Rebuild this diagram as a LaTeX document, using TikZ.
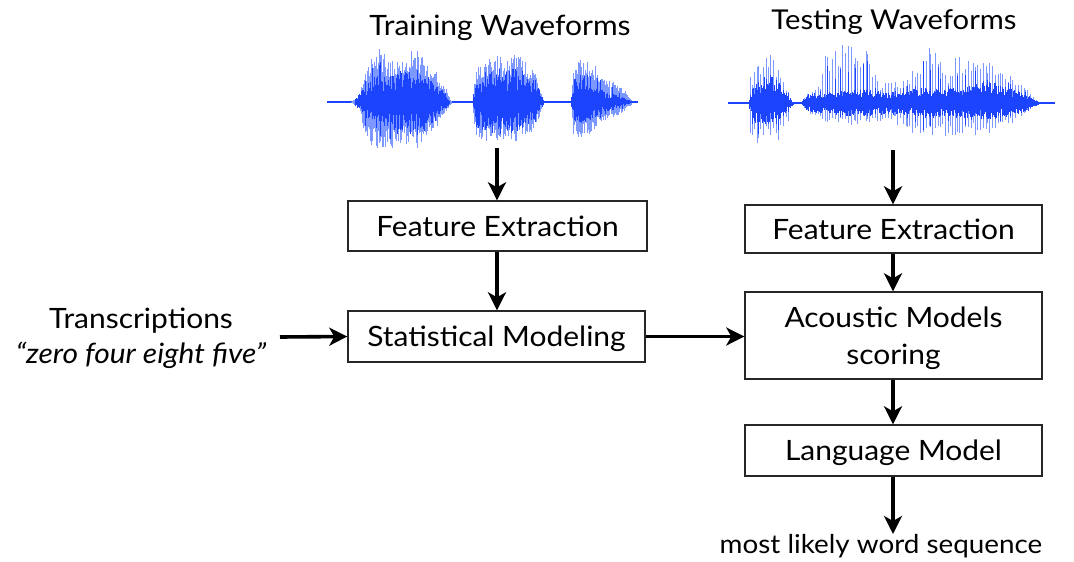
\documentclass[tikz,border=0pt]{standalone}
\usepackage{fontspec}
\setmainfont{Lato}[FakeStretch=1.07]
\usetikzlibrary{arrows.meta}
\definecolor{wlight}{RGB}{125,152,255}
\definecolor{wdark}{RGB}{28,68,255}
\newcommand\wenv[6]{%
  \foreach \xa/\ta/\ba [count=\k, remember=\xa as \xp (initially 0), remember=\ta as \tp (initially 0), remember=\ba as \bp (initially 0)] in #6 {%
    \ifnum\k>1
      \pgfmathtruncatemacro\nn{(\xa-\xp)/#2}%
      \foreach \i in {0,...,\nn} {%
        \pgfmathsetmacro\tt{\i/max(\nn,1)}%
        \pgfmathsetmacro\xx{\xp+\i*#2}%
        \pgfmathsetmacro\up{#5*(\tp+(\ta-\tp)*\tt)*(#4+(1-#4)*rnd)}%
        \pgfmathsetmacro\dn{#5*(\bp+(\ba-\bp)*\tt)*(#4+(1-#4)*rnd)}%
        \draw[#3] (\xx,#1-\up) -- (\xx,#1+\dn);
      }%
    \fi
  }%
}
\tikzset{
  box/.style={draw=black!85, line width=1.4pt, inner sep=0pt, font=\fontsize{28}{37}\selectfont, align=center},
  onel/.style={text height=27pt, text depth=7pt},
  lbl/.style={inner sep=0pt, font=\fontsize{28}{35}\selectfont, align=center},
  arr/.style={line width=3.6pt, -{Stealth[length=18pt,width=18pt,inset=5pt]}},
  lw/.style={wlight, line width=1pt},
  dw/.style={wdark, line width=0.9pt},
  ds/.style={wdark, line width=0.6pt},
}
\begin{document}
\begin{tikzpicture}[x=1pt,y=-1pt]
\useasboundingbox (0,0) rectangle (1074,562);
\pgfmathsetseed{7}
% training waveform
\draw[wdark, line width=1.3pt] (327,102) -- (638,102);
\def\tA{350/0/0, 358/5/5, 365/28/33, 372/44/44, 380/55/47, 390/44/46, 400/46/44, 410/53/42, 417/55/48, 425/44/38, 435/33/28, 445/16/11, 452/2/2}
\def\tB{472/0/0, 476/33/33, 482/38/38, 492/47/41, 505/46/38, 515/49/41, 525/42/35, 535/31/28, 543/5/5}
\def\tC{571/0/0, 574/38/33, 580/49/37, 590/40/33, 600/33/24, 612/24/20, 622/15/11, 633/3/3}
\def\dA{355/3/3, 362/12/12, 372/24/26, 380/32/30, 390/26/28, 400/28/30, 410/32/32, 420/30/28, 430/26/24, 440/14/12, 450/3/3}
\def\dB{473/5/5, 478/26/26, 490/32/30, 500/30/32, 512/34/32, 525/29/26, 535/21/18, 543/4/4}
\def\dC{571/3/3, 575/24/24, 582/29/26, 592/18/18, 605/12/12, 620/6/6, 633/1/1}
\wenv{102}{1.1}{lw}{0.55}{1}{\tA}
\wenv{102}{1.1}{lw}{0.55}{1}{\tB}
\wenv{102}{1.1}{lw}{0.55}{1}{\tC}
\wenv{102}{0.8}{dw}{0.35}{1}{\dA}
\wenv{102}{0.8}{dw}{0.35}{1}{\dB}
\wenv{102}{0.8}{dw}{0.35}{1}{\dC}
\wenv{102}{7}{ds}{0.4}{0.8}{\tA}
\wenv{102}{7}{ds}{0.4}{0.8}{\tB}
\wenv{102}{7}{ds}{0.4}{0.8}{\tC}
% testing waveform
\draw[wdark, line width=1.3pt] (728,103) -- (1055,103);
\def\sA{748/0/0, 752/27/32, 758/38/43, 768/54/38, 778/43/38, 788/16/22, 793/0/0}
\def\sB{802/0/0, 810/11/11, 820/17/15, 827/50/20, 840/59/22, 855/59/22, 867/56/20, 875/39/20, 880/22/18, 895/22/20, 907/24/27, 915/36/37, 930/59/37, 940/59/36, 950/27/33, 957/46/32, 975/45/32, 987/43/32, 1000/38/27, 1010/27/22, 1025/16/13, 1040/0/0}
\def\eA{749/5/5, 755/20/20, 765/27/22, 772/29/21, 780/22/17, 790/6/6, 794/1/1}
\def\eB{802/2/2, 808/9/9, 830/12/12, 860/14/14, 880/12/12, 905/13/12, 930/17/16, 945/14/14, 970/18/17, 990/22/17, 1010/16/14, 1030/7/7, 1040/1/1}
\wenv{103}{2.8}{lw}{0.6}{1}{\sA}
\wenv{103}{2.8}{lw}{0.6}{1}{\sB}
\wenv{103}{0.8}{dw}{0.4}{1}{\eA}
\wenv{103}{0.8}{dw}{0.4}{1}{\eB}
\wenv{103}{8}{ds}{0.4}{0.75}{\sA}
\wenv{103}{8}{ds}{0.4}{0.75}{\sB}
% titles
\node[lbl] (ttrain) at (500,28) {Training Waveforms};
\node[lbl, font=\fontsize{27.3}{35}\selectfont] (ttest) at (894,22) {Testing Waveforms};
\coordinate (w1) at (497,148);
\coordinate (w2) at (893,150);
% boxes
\node[box, onel, minimum width=299pt, minimum height=50pt] (fe1) at (497.5,226) {Feature Extraction};
\node[box, onel, minimum width=297pt, minimum height=51pt] (sm) at (496.5,336.5) {Statistical Modeling};
\node[box, onel, minimum width=297pt, minimum height=48pt] (fe2) at (893.5,229) {Feature Extraction};
\node[box, text depth=0pt, minimum width=297pt, minimum height=87pt] (am) at (893.5,335.5) {Acoustic Models\\scoring};
\node[box, onel, minimum width=297pt, minimum height=51pt] (lm) at (893.5,450.5) {Language Model};
% labels
\node[lbl] (trans) at (141,338) {Transcriptions\\\itshape “zero four eight five”};
\coordinate (tr) at (280,337);
\node[lbl, font=\fontsize{26}{30}\selectfont] (out) at (881,546) {most likely word sequence};
% arrows
\draw[arr] (w1) -- (w1 |- fe1.north);
\draw[arr] (fe1.south -| w1) -- (w1 |- sm.north);
\draw[arr] (w2) -- (w2 |- fe2.north);
\draw[arr] (fe2.south -| w2) -- (w2 |- am.north);
\draw[arr] (am.south -| w2) -- (w2 |- lm.north);
\draw[arr] (lm.south -| w2) -- (w2 |- out.north);
\draw[arr] (tr) -- (sm.west);
\draw[arr] (sm.east) -- (sm.east -| am.west);
\end{tikzpicture}
\end{document}
